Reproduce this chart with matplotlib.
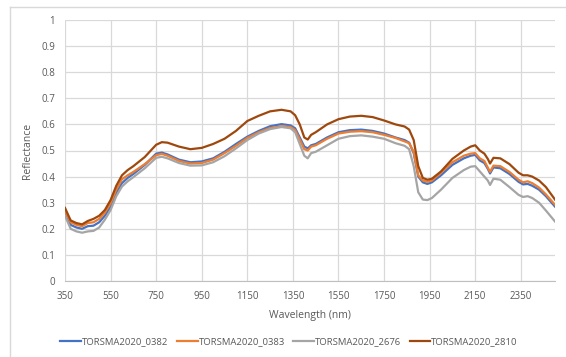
import numpy as np
from matplotlib import pyplot as plt
from matplotlib.lines import Line2D

# Wavelength grid (nm)
wavelength = [350, 375, 400, 425, 450, 475, 500, 525, 550, 575, 600, 625, 650, 700, 750, 775,
              800, 850, 900, 950, 1000, 1050, 1100, 1150, 1200, 1250, 1300, 1340, 1360, 1380,
              1400, 1415, 1430, 1450, 1500, 1550, 1600, 1650, 1700, 1750, 1800, 1840, 1860,
              1880, 1900, 1920, 1940, 1960, 2000, 2050, 2100, 2130, 2150, 2170, 2190, 2205,
              2215, 2230, 2260, 2300, 2340, 2360, 2380, 2400, 2430, 2460, 2500]

# Reflectance spectra
refl_0382 = [0.262, 0.215, 0.205, 0.200, 0.210, 0.212, 0.225, 0.250, 0.285, 0.338, 0.375, 0.395,
             0.410, 0.445, 0.488, 0.492, 0.485, 0.465, 0.455, 0.458, 0.470, 0.495, 0.525, 0.553,
             0.575, 0.593, 0.601, 0.596, 0.585, 0.550, 0.515, 0.508, 0.520, 0.525, 0.550, 0.570,
             0.578, 0.580, 0.575, 0.565, 0.550, 0.540, 0.530, 0.490, 0.400, 0.378, 0.372, 0.378,
             0.405, 0.445, 0.470, 0.480, 0.483, 0.462, 0.452, 0.430, 0.412, 0.435, 0.432, 0.410,
             0.380, 0.370, 0.372, 0.365, 0.350, 0.325, 0.285]
refl_0383 = [0.268, 0.225, 0.215, 0.210, 0.222, 0.225, 0.238, 0.262, 0.298, 0.350, 0.390, 0.405,
             0.418, 0.448, 0.482, 0.487, 0.480, 0.460, 0.450, 0.452, 0.465, 0.490, 0.518, 0.548,
             0.570, 0.586, 0.593, 0.590, 0.578, 0.542, 0.505, 0.500, 0.515, 0.520, 0.545, 0.565,
             0.572, 0.574, 0.570, 0.560, 0.548, 0.535, 0.528, 0.495, 0.405, 0.385, 0.380, 0.385,
             0.415, 0.455, 0.480, 0.488, 0.490, 0.470, 0.460, 0.435, 0.418, 0.442, 0.440, 0.418,
             0.388, 0.378, 0.382, 0.375, 0.358, 0.332, 0.292]
refl_2676 = [0.250, 0.200, 0.190, 0.185, 0.190, 0.192, 0.205, 0.235, 0.272, 0.325, 0.362, 0.382,
             0.398, 0.432, 0.472, 0.476, 0.470, 0.452, 0.442, 0.443, 0.455, 0.478, 0.508, 0.540,
             0.565, 0.582, 0.590, 0.585, 0.570, 0.525, 0.480, 0.470, 0.490, 0.495, 0.520, 0.545,
             0.555, 0.558, 0.553, 0.545, 0.528, 0.518, 0.505, 0.440, 0.340, 0.312, 0.310, 0.318,
             0.350, 0.395, 0.425, 0.438, 0.440, 0.420, 0.400, 0.385, 0.368, 0.392, 0.388, 0.360,
             0.330, 0.322, 0.325, 0.318, 0.300, 0.270, 0.228]
refl_2810 = [0.280, 0.232, 0.222, 0.217, 0.230, 0.238, 0.250, 0.272, 0.310, 0.365, 0.405, 0.425,
             0.440, 0.475, 0.522, 0.532, 0.530, 0.515, 0.505, 0.510, 0.525, 0.545, 0.575, 0.613,
             0.633, 0.650, 0.656, 0.650, 0.635, 0.600, 0.550, 0.542, 0.560, 0.570, 0.600, 0.620,
             0.630, 0.633, 0.628, 0.615, 0.600, 0.592, 0.580, 0.540, 0.440, 0.395, 0.388, 0.392,
             0.420, 0.468, 0.500, 0.515, 0.520, 0.500, 0.488, 0.468, 0.450, 0.472, 0.470, 0.448,
             0.415, 0.405, 0.405, 0.400, 0.385, 0.360, 0.312]

labels = ['TORSMA2020_0382', 'TORSMA2020_0383', 'TORSMA2020_2676', 'TORSMA2020_2810']
colors = ['#4472C4', '#ED7D31', '#A5A5A5', '#9E480E']

plt.rcParams['font.family'] = ['Open Sans', 'DejaVu Sans']
text_col = '#595959'

fig = plt.figure(figsize=(5.66, 3.57), dpi=100)
ax = fig.add_axes([65 / 566, 76 / 357, 490 / 566, 261 / 357])

for y, lab, c in zip([refl_0382, refl_0383, refl_2676, refl_2810], labels, colors):
    ax.plot(wavelength, y, color=c, linewidth=1.6, label=lab)

ax.set_xlim(350, 2500)
ax.set_ylim(0, 1)
ax.set_xticks(np.arange(350, 2500, 200))
ax.set_yticks(np.arange(0, 1.01, 0.1))
ax.set_yticklabels(['0', '0.1', '0.2', '0.3', '0.4', '0.5', '0.6', '0.7', '0.8', '0.9', '1'])
ax.grid(True, color='#D9D9D9', linewidth=0.9)
ax.set_axisbelow(True)
for s in ['top', 'right', 'left']:
    ax.spines[s].set_visible(False)
ax.spines['bottom'].set_color('#BFBFBF')
ax.tick_params(length=0, labelsize=7, colors=text_col, pad=7)
ax.set_xlabel('Wavelength (nm)', fontsize=7.5, color=text_col, labelpad=6)
ax.set_ylabel('Reflectance', fontsize=7.5, color=text_col, labelpad=6)

ax.legend(loc='center', bbox_to_anchor=(289 / 566, 15 / 357), bbox_transform=fig.transFigure,
          ncol=4, frameon=False, fontsize=6.8, labelcolor=text_col, handlelength=2.2,
          handletextpad=0.1, columnspacing=0.9)

# chart area border (partly cropped in the original)
fig.add_artist(Line2D([10 / 566, 1], [350 / 357, 350 / 357], color='#D9D9D9', linewidth=1))
fig.add_artist(Line2D([10 / 566, 10 / 566], [0, 350 / 357], color='#D9D9D9', linewidth=1))

plt.savefig('out.png', dpi=100)
